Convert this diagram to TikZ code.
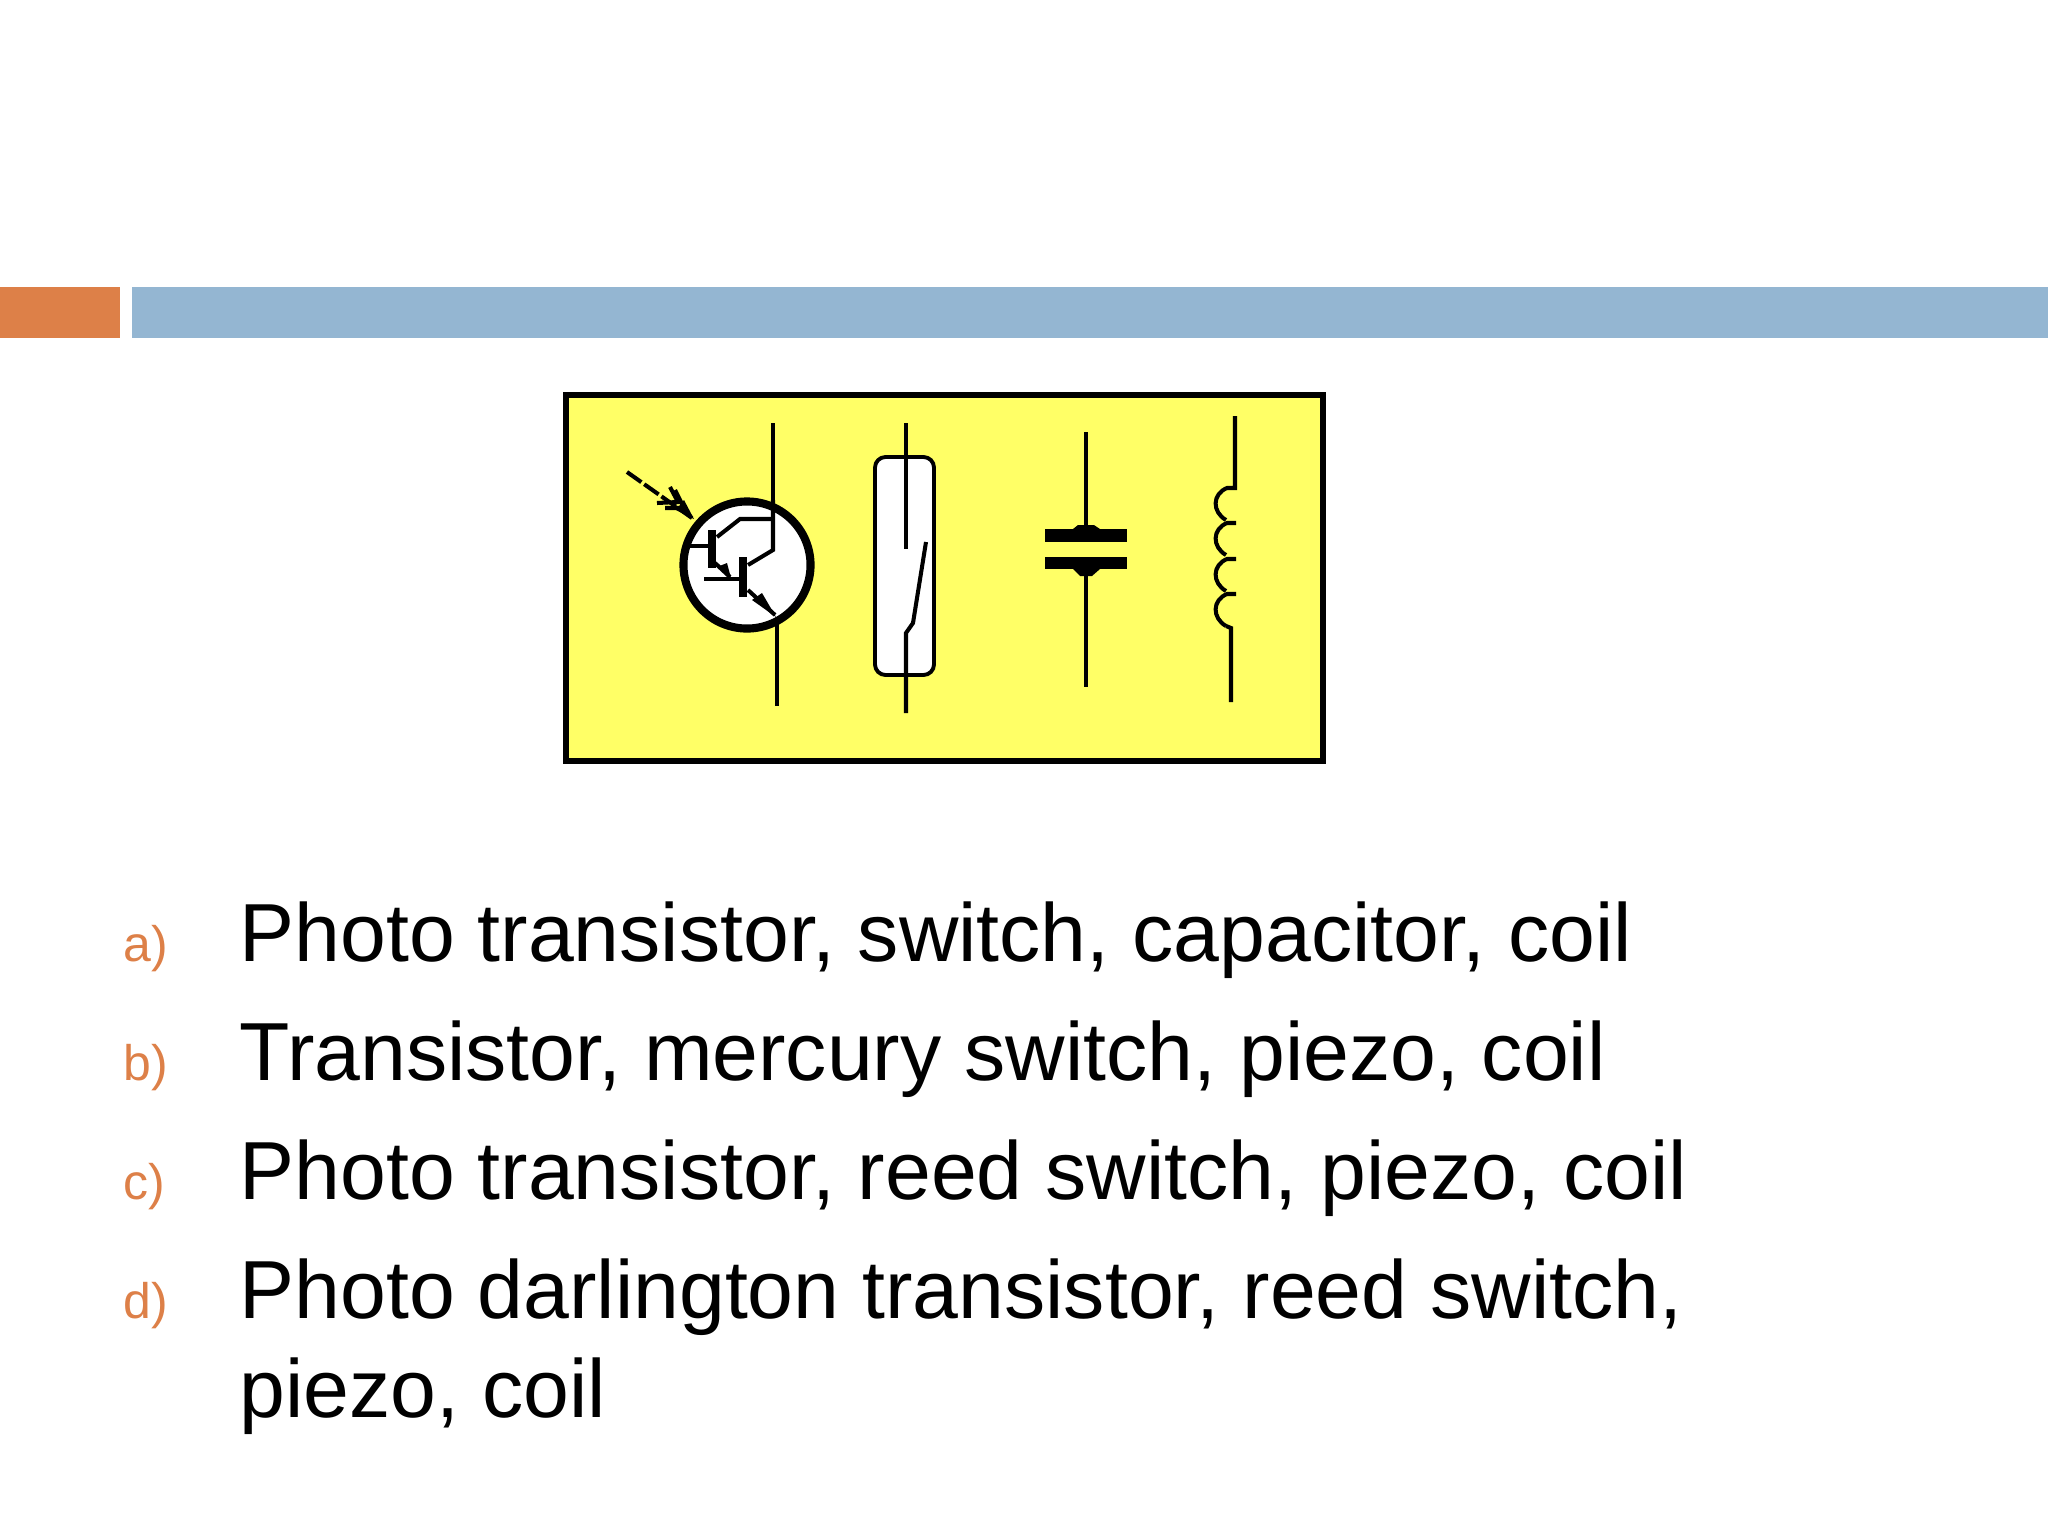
\documentclass[tikz,border=0pt]{standalone}
\usepackage{fontspec}
\setmainfont{Liberation Sans}
\definecolor{barorange}{RGB}{221,128,72}
\definecolor{barblue}{RGB}{148,182,210}
\definecolor{panelyellow}{RGB}{255,255,102}
\tikzset{
    answer/.style={anchor=base west, inner sep=0pt, font=\fontsize{23.43}{28}\selectfont},
    letter/.style={anchor=base west, inner sep=0pt, text=barorange, font=\fontsize{14.2}{17}\selectfont},
    wire/.style={line width=1.15pt},
    bar/.style={line width=2pt}
}
\begin{document}
\begin{tikzpicture}[x=0.01cm, y=-0.01cm]
    \useasboundingbox (0,0) rectangle (2048,1536);

    \fill[barorange] (0,287) rectangle (120,338);
    \fill[barblue] (132,287) rectangle (2048,338);

    \draw[fill=panelyellow, line width=1.9pt] (566,395) rectangle (1323,761);

    % photo transistor
    \draw[wire] (773,423) -- (773,510);
    \draw[wire] (777,620) -- (777,706);
    \draw[fill=white, line width=2.3pt] (747,565) circle (0.635cm);
    \draw[wire] (773,500) -- (773,550) -- (748,565);
    \draw[wire] (688,546) -- (712,546);
    \draw[wire] (717,537) -- (740,519) -- (773,519);
    \draw[wire] (704,579) -- (742,579);
    \draw[bar] (712,530) -- (712,568);
    \draw[bar] (743,557) -- (743,597);
    \draw[wire] (715,563) -- (730,577);
    \fill (731,578) -- (717,567) -- (727,563) -- cycle;
    \draw[wire] (748,590) -- (775,615);
    \fill (776,617) -- (752,600) -- (762,593) -- cycle;
    \draw[wire, dash pattern=on 5pt off 1pt] (627,472) -- (692,518);
    \draw[wire] (670,487) -- (678,502) -- (657,503);
    \draw[wire] (675,490) -- (684,508) -- (665,508);
    \fill (694,519) -- (676,510) -- (684,500) -- cycle;

    % reed switch
    \draw[fill=white, line width=1.1pt, rounded corners=3pt] (875,457) rectangle (934,675);
    \draw[wire] (906,423) -- (906,549);
    \draw[wire] (906,713) -- (906,633) -- (913,623) -- (926,542);

    % capacitor
    \draw[wire] (1086,432) -- (1086,525);
    \draw[wire] (1086,573) -- (1086,687);
    \fill (1045,529) rectangle (1127,542);
    \fill (1045,557) rectangle (1127,569);
    \fill (1073,529) -- (1078,525) -- (1094,525) -- (1100,529) -- cycle;
    \fill (1073,569) -- (1080,576) -- (1092,576) -- (1100,569) -- cycle;

    % coil
    \draw[wire] (1235,416) -- (1235,488) -- (1227,488)
        .. controls (1212,494) and (1212,512) .. (1226,520);
    \foreach \y in {523,559,594}
        \draw[wire] (1236,\y) -- (1227,\y)
            .. controls (1212,\y+6) and (1212,\y+24) .. (1226,\y+32);
    \draw[wire] (1226,626) -- (1231,628) -- (1231,702);

    % answers
    \node[letter] (la) at (123,961) {a)};
    \node[letter] (lb) at (123,1080) {b)};
    \node[letter] (lc) at (123,1199) {c)};
    \node[letter] (ld) at (123,1318) {d)};
    \node[answer] (ta) at (239,961) {Photo transistor, switch, capacitor, coil};
    \node[answer] (tb) at (239,1080) {Transistor, mercury switch, piezo, coil};
    \node[answer] (tc) at (239,1199) {Photo transistor, reed switch, piezo, coil};
    \node[answer] (td) at (239,1318) {Photo darlington transistor, reed switch,};
    \node[answer] (te) at (239,1417) {piezo, coil};
\end{tikzpicture}
\end{document}
